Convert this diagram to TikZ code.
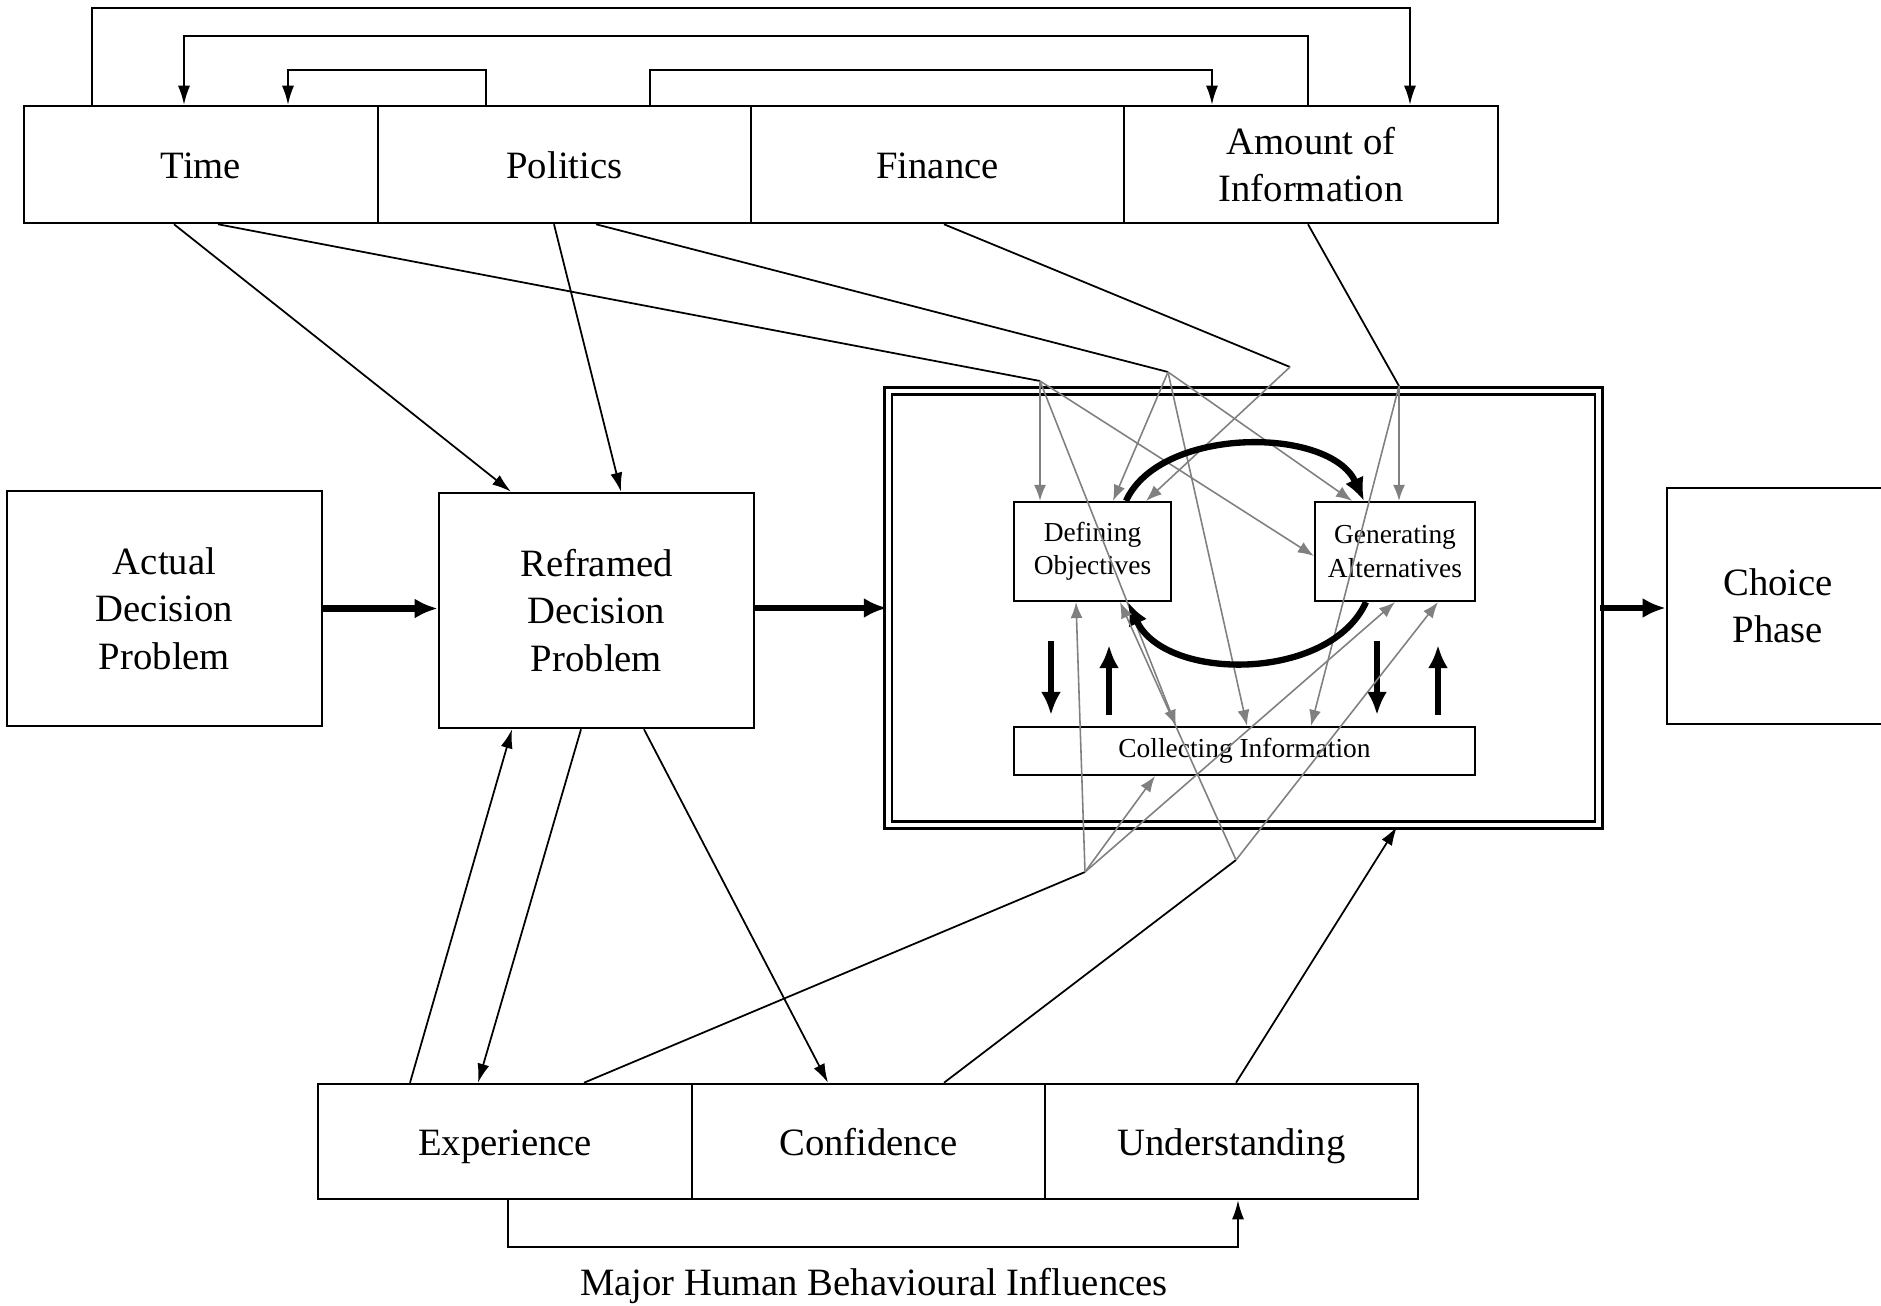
\documentclass[tikz,border=0pt]{standalone}
\usepackage{fontspec}
\setmainfont{Liberation Serif}
\usetikzlibrary{arrows.meta,calc}

\tikzset{
  box/.style={draw, line width=0.7pt, inner sep=0pt, align=center, font=\fontsize{11}{13.5}\selectfont},
  oneline/.style={box, text height=2.2ex, text depth=0.45ex},
  subbox/.style={draw, line width=0.6pt, inner sep=0pt, align=center, font=\fontsize{7.8}{9.5}\selectfont},
  bare/.style={line width=0.5pt},
  conn/.style={line width=0.5pt, -{Latex[length=1.9mm,width=1.2mm]}},
  infl/.style={gray, line width=0.45pt, -{Latex[length=1.6mm,width=1.2mm]}},
  fatarr/.style={line width=1.8pt, -{Latex[length=2.3mm,width=2mm]}},
}

\begin{document}
\begin{tikzpicture}[x=0.01cm, y=-0.01cm]
\useasboundingbox (0,0) rectangle (1881,1306);

% external factors
\node[oneline, minimum width=3.54cm, minimum height=1.17cm] (time) at (201,164.5) {Time};
\node[oneline, minimum width=3.73cm, minimum height=1.17cm] (politics) at (564.5,164.5) {Politics};
\node[oneline, minimum width=3.73cm, minimum height=1.17cm] (finance) at (937.5,164.5) {Finance};
\node[box, minimum width=3.74cm, minimum height=1.17cm] (amount) at (1311,164.5) {Amount of\\Information};

% main chain
\node[box, minimum width=3.15cm, minimum height=2.35cm] (actual) at (164.5,608.5) {Actual\\Decision\\Problem};
\node[box, minimum width=3.15cm, minimum height=2.35cm] (reframed) at (596.5,610.5) {Reframed\\Decision\\Problem};
\node[draw, double, line width=0.8pt, double distance=1.3pt, minimum width=7.1cm, minimum height=4.34cm] (phase) at (1243.5,608) {};
\node[box, minimum width=2.22cm, minimum height=2.36cm] (choice) at (1778,606) {Choice\\Phase};

% inside the design phase
\node[subbox, minimum width=1.57cm, minimum height=0.99cm] (defobj) at (1092.5,551.5) {Defining\\Objectives};
\node[subbox, minimum width=1.60cm, minimum height=0.99cm] (genalt) at (1395,551.5) {Generating\\Alternatives};
\node[subbox, minimum width=4.61cm, minimum height=0.48cm] (collect) at (1244.5,751) {Collecting Information};

% human influences
\node[oneline, minimum width=3.74cm, minimum height=1.15cm] (exper) at (505,1141.5) {Experience};
\node[oneline, minimum width=3.53cm, minimum height=1.15cm] (confid) at (868.5,1141.5) {Confidence};
\node[oneline, minimum width=3.73cm, minimum height=1.15cm] (under) at (1231.5,1141.5) {Understanding};
\node[font=\fontsize{11}{13.5}\selectfont] (caption) at (874,1286) {Major Human Behavioural Influences};

\coordinate (jT) at (1040,381);
\coordinate (jP) at (1168,372);
\coordinate (jF) at (1290,367);
\coordinate (jA) at (1399,386);
\coordinate (jE) at (1085,872);
\coordinate (jC) at (1236,860);

% links across the top
\draw[conn] (time.north -| 92,0) -- (92,8) -| (amount.north -| 1410,0);
\draw[conn] (amount.north -| 1308,0) -- (1308,36) -| (time.north -| 184,0);
\draw[conn] (politics.north -| 486,0) -- (486,70) -| (time.north -| 288,0);
\draw[conn] (politics.north -| 650,0) -- (650,70) -| (amount.north -| 1212,0);

\draw[fatarr] (actual.east) -- (actual.east -| reframed.west);
\draw[fatarr] (reframed.east |- phase.west) -- (phase.west);
\draw[fatarr] (phase.east) -- (phase.east -| choice.west);

\draw[conn] (time.south -| 174,0) -- (reframed.north -| 511,0);
\draw[conn] (politics.south -| 554,0) -- (reframed.north -| 621,0);
\draw[bare] (time.south -| 218,0) -- (jT);
\draw[bare] (politics.south -| 596,0) -- (jP);
\draw[bare] (finance.south -| 944,0) -- (jF);
\draw[bare] (amount.south -| 1308,0) -- (jA);

\draw[infl] (jT) -- (defobj.north -| jT);
\draw[infl] (jT) -- (collect.north -| 1176,0);
\draw[infl] (jT) -- (genalt.west |- 0,556);
\draw[infl] (jP) -- (defobj.north -| 1113,0);
\draw[infl] (jP) -- (collect.north -| 1247,0);
\draw[infl] (jP) -- (genalt.north -| 1352,0);
\draw[infl] (jF) -- (defobj.north -| 1146,0);
\draw[infl] (jA) -- (genalt.north -| jA);
\draw[infl] (jA) -- (collect.north -| 1311,0);

% inner cycle
\draw[fatarr] (defobj.north -| 1126,0) .. controls (1160,426) and (1330,426) .. (genalt.north -| 1364,0);
\draw[fatarr] (genalt.south -| 1366,0) .. controls (1330,682) and (1165,682) .. (defobj.south -| 1128,0);
\draw[fatarr] ($(defobj.south -| 1051,0)+(0,39)$) -- ($(collect.north -| 1051,0)+(0,-11)$);
\draw[fatarr] ($(collect.north -| 1109,0)+(0,-11)$) -- ($(defobj.south -| 1109,0)+(0,43)$);
\draw[fatarr] ($(genalt.south -| 1377,0)+(0,39)$) -- ($(collect.north -| 1377,0)+(0,-11)$);
\draw[fatarr] ($(collect.north -| 1438,0)+(0,-11)$) -- ($(genalt.south -| 1438,0)+(0,43)$);

% links from below
\draw[bare] (exper.north -| 584,0) -- (jE);
\draw[bare] (confid.north -| 944,0) -- (jC);
\draw[infl] (jE) -- (defobj.south -| 1076,0);
\draw[infl] (jE) -- (collect.south -| 1155,0);
\draw[infl] (jE) -- (genalt.south -| 1395,0);
\draw[infl] (jC) -- (defobj.south -| 1120,0);
\draw[infl] (jC) -- (genalt.south -| 1438,0);
\draw[conn] (under.north -| 1236,0) -- (phase.south -| 1397,0);
\draw[conn] (exper.north -| 410,0) -- (reframed.south -| 512,0);
\draw[conn] (reframed.south -| 581,0) -- (exper.north -| 478,0);
\draw[conn] (reframed.south -| 644,0) -- (confid.north -| 828,0);
\draw[conn] (exper.south -| 508,0) -- (508,1247) -| (under.south -| 1238,0);
\end{tikzpicture}
\end{document}
